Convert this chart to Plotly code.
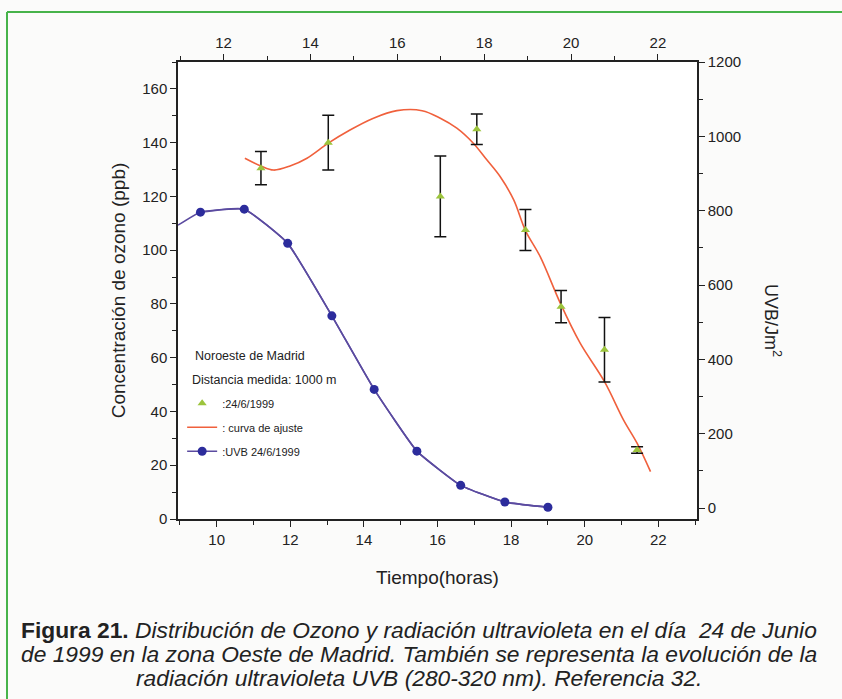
import plotly.graph_objects as go

# ---- data ----
ozone_t = [12.86, 14.41, 16.99, 17.83, 18.95, 19.77, 20.77, 21.52]
ozone_ppb = [130.5, 140.0, 120.0, 145.0, 107.5, 79.0, 63.0, 25.7]
ozone_err = [6.2, 10.2, 15.0, 5.7, 7.6, 6.0, 12.0, 1.2]

fit_t = [12.49, 12.86, 13.15, 13.53, 13.92, 14.41, 14.91, 15.45, 15.99, 16.57,
         16.99, 17.37, 17.75, 18.06, 18.37, 18.68, 18.95, 19.29, 19.76, 20.21,
         20.77, 21.21, 21.52, 21.83]
fit_ppb = [134.2, 131.3, 129.8, 131.3, 134.2, 139.8, 144.7, 149.1, 151.9, 151.9,
           149.1, 145.4, 139.8, 133.6, 127.3, 118.7, 107.3, 97.6, 80.0, 65.4,
           51.1, 36.8, 28.2, 17.6]

uvb_t = [9.56, 10.75, 11.93, 13.13, 14.28, 15.44, 16.63, 17.83, 19.0]
uvb_val = [796, 804, 712, 517, 319, 153, 61, 16, 2]
uvb_lead_t = [8.95]
uvb_lead_val = [761]

bottom_ticks = [10, 12, 14, 16, 18, 20, 22]
top_ticks = [12, 14, 16, 18, 20, 22]
left_ticks = [0, 20, 40, 60, 80, 100, 120, 140, 160]
right_ticks = [0, 200, 400, 600, 800, 1000, 1200]

caption_lines = [
    "<b>Figura 21.</b> <i>Distribución de Ozono y radiación ultravioleta en el día  24 de Junio</i>",
    "<i>de 1999 en la zona Oeste de Madrid. También se representa la evolución de la</i>",
    "<i>radiación ultravioleta UVB (280-320 nm). Referencia 32.</i>",
]

FONT = "Liberation Sans, Arial, sans-serif"

fig = go.Figure()

# ozone on top time axis (x) and left axis (y)
fig.add_trace(go.Scatter(
    x=fit_t, y=fit_ppb, xaxis="x", yaxis="y", mode="lines",
    line=dict(color="#f0603c", width=1.6, shape="spline"),
    name=": curva de ajuste", legendgroup="b", legendrank=2))

fig.add_trace(go.Scatter(
    x=ozone_t, y=ozone_ppb, xaxis="x", yaxis="y", mode="markers",
    marker=dict(symbol="triangle-up", color="#9cc43c", size=8),
    error_y=dict(type="data", array=ozone_err, color="#111111", thickness=1.5, width=6),
    name=":24/6/1999", legendgroup="a", legendrank=1))

# UVB on bottom time axis (x2) and right axis (y2)
fig.add_trace(go.Scatter(
    x=uvb_lead_t + uvb_t, y=uvb_lead_val + uvb_val, xaxis="x2", yaxis="y2",
    mode="lines", line=dict(color="#5b4ba0", width=1.6, shape="spline", smoothing=0.4),
    showlegend=False))

fig.add_trace(go.Scatter(
    x=uvb_t, y=uvb_val, xaxis="x2", yaxis="y2", mode="lines+markers",
    line=dict(color="#5b4ba0", width=1.6, shape="spline", smoothing=0.4),
    marker=dict(color="#2c2c9c", size=9),
    name=":UVB 24/6/1999", legendgroup="c", legendrank=3))

axis_common = dict(showline=True, linecolor="#222", linewidth=1.5, ticks="outside",
                   ticklen=6, tickcolor="#222", showgrid=False, zeroline=False,
                   tickfont=dict(family=FONT, size=15, color="#222"))

fig.update_layout(
    width=842, height=699,
    margin=dict(l=178, r=145, t=62, b=180),
    paper_bgcolor="#fbfbfa", plot_bgcolor="white",
    font=dict(family=FONT, color="#222"),
    showlegend=True,
    legend=dict(x=0.008, y=0.285, xanchor="left", yanchor="top",
                bgcolor="rgba(0,0,0,0)", font=dict(family=FONT, size=11, color="#222"),
                traceorder="grouped", tracegroupgap=5, itemwidth=30),
    xaxis=dict(range=[10.95, 22.9], tickvals=top_ticks, side="top",
               minor=dict(ticks="outside", ticklen=4, dtick=1, tick0=11, tickcolor="#222"),
               anchor="y", **axis_common),
    xaxis2=dict(range=[8.95, 23.05], tickvals=bottom_ticks, side="bottom", overlaying="x",
                minor=dict(ticks="outside", ticklen=4, dtick=1, tick0=9, tickcolor="#222"),
                title=dict(text="Tiempo(horas)", font=dict(family=FONT, size=19), standoff=24),
                anchor="y2", **axis_common),
    yaxis=dict(range=[0, 170], tickvals=left_ticks, side="left",
               minor=dict(ticks="outside", ticklen=4, dtick=10, tickcolor="#222"),
               title=dict(text="Concentración de ozono (ppb)", font=dict(family=FONT, size=19),
                          standoff=12),
               anchor="x", **axis_common),
    yaxis2=dict(range=[-29.6, 1200], tickvals=right_ticks, overlaying="y", side="right",
                minor=dict(ticks="outside", ticklen=4, dtick=100, tick0=0, tickcolor="#222"),
                anchor="x2", **axis_common),
)

annotations = [
    dict(text="Noroeste de Madrid", x=0.029, y=0.357, xanchor="left", yanchor="middle",
         font=dict(family=FONT, size=12.5, color="#222")),
    dict(text="Distancia medida: 1000 m", x=0.023, y=0.304, xanchor="left", yanchor="middle",
         font=dict(family=FONT, size=12.5, color="#222")),
    dict(text="UVB/Jm<sup>2</sup>", x=(773 - 178) / 519, y=(519 - 320) / 457,
         xanchor="center", yanchor="middle", textangle=90,
         font=dict(family=FONT, size=18, color="#222")),
]
for i, line in enumerate(caption_lines):
    annotations.append(dict(text=line, x=(419 - 178) / 519, y=(519 - (630 + 24 * i)) / 457,
                            xanchor="center", yanchor="middle",
                            font=dict(family=FONT, size=22.8, color="#222")))
for a in annotations:
    a.update(xref="paper", yref="paper", showarrow=False)
fig.update_layout(annotations=annotations)

gx0 = (7 - 178) / 519
gy0 = (519 - 12) / 457
fig.update_layout(shapes=[
    dict(type="line", xref="paper", yref="paper", x0=gx0, x1=(842 - 178) / 519, y0=gy0, y1=gy0,
         line=dict(color="#47b34a", width=2)),
    dict(type="line", xref="paper", yref="paper", x0=gx0, x1=gx0, y0=gy0, y1=(519 - 699) / 457,
         line=dict(color="#47b34a", width=2)),
])

fig.write_html("out.html")
